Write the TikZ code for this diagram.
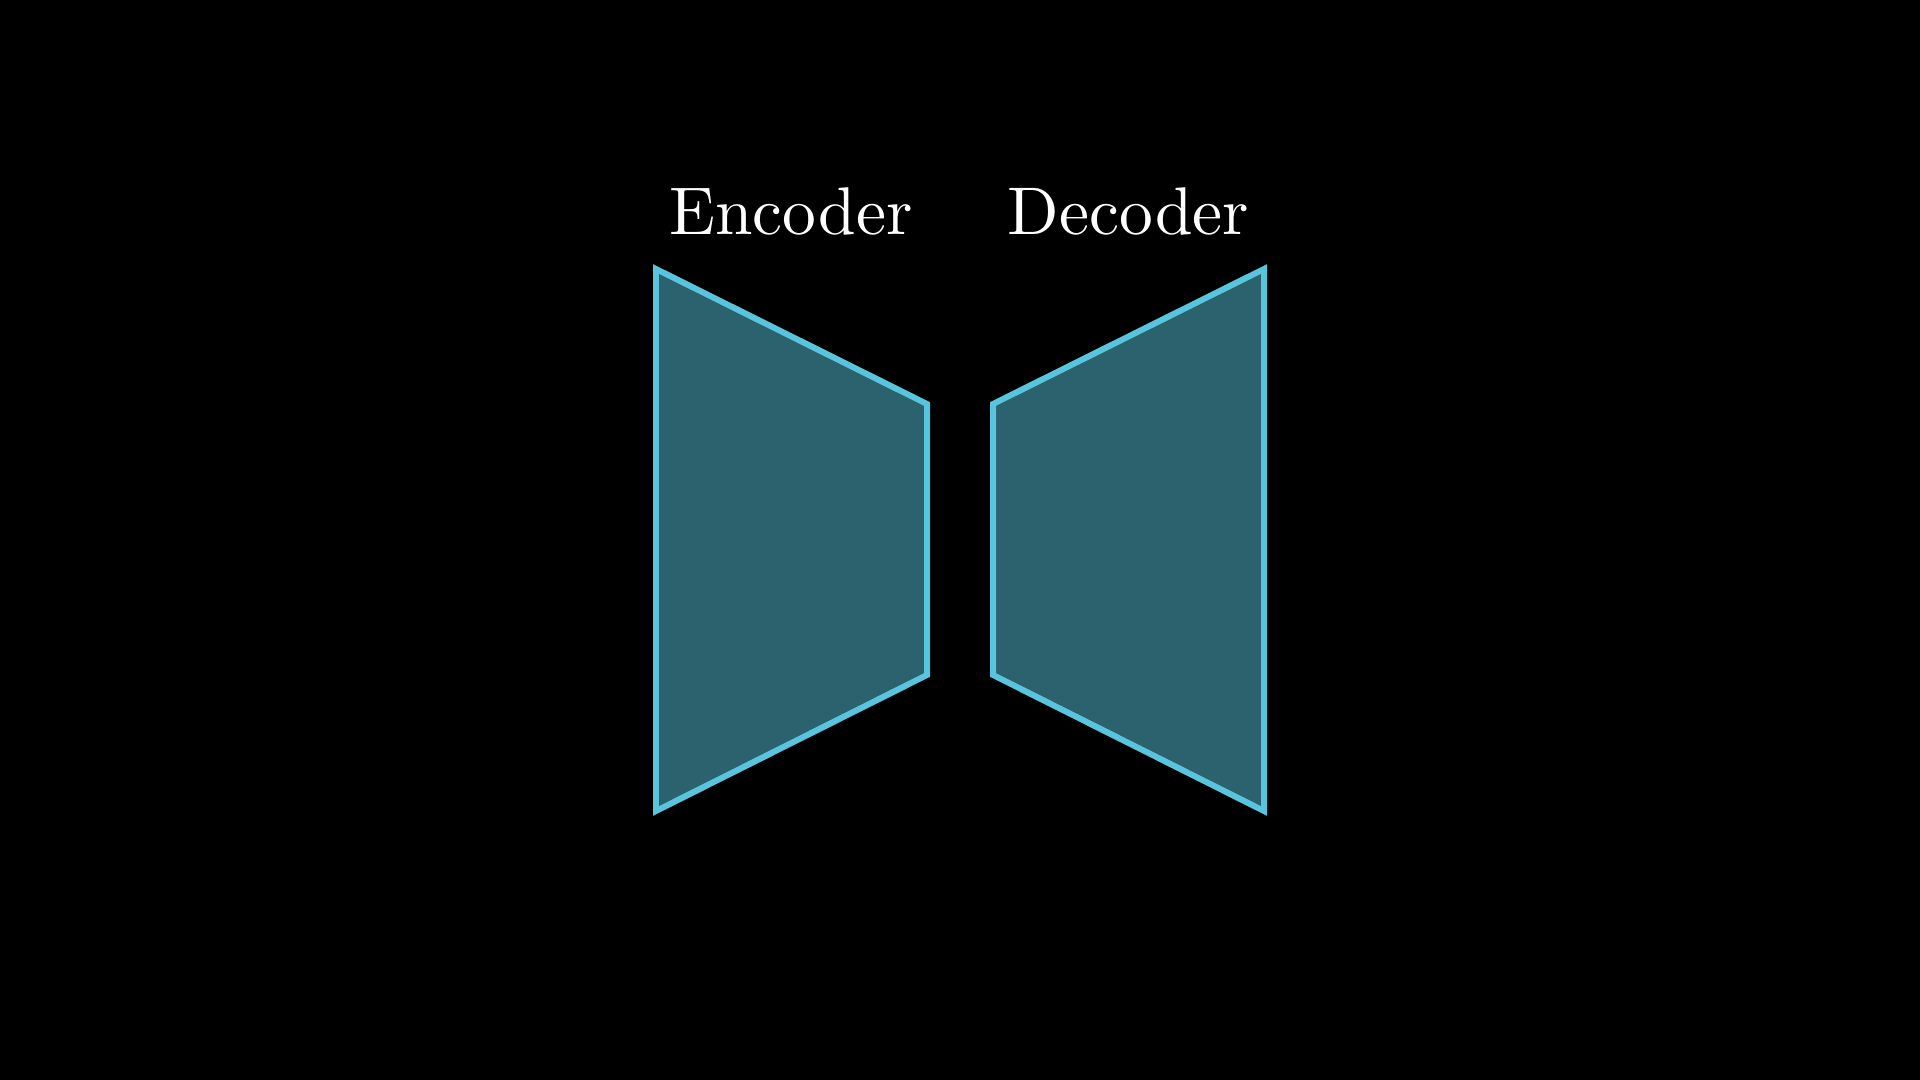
\documentclass[tikz,border=0pt]{standalone}
\usepackage{tikz}
\usetikzlibrary{positioning}
\definecolor{mblue}{HTML}{58C4DD}

\tikzset{
  block/.style={draw=mblue, line width=1.7pt, fill=mblue, fill opacity=0.5, draw opacity=1, line join=miter},
  label/.style={text=white, font=\normalsize, scale=1.92, anchor=base, inner sep=0pt}
}

\begin{document}
\begin{tikzpicture}
  \fill[black] (0,0) rectangle (19.2,10.8);
  \useasboundingbox (0,0) rectangle (19.2,10.8);

  %% Encoder
  \coordinate (enctl) at (6.56,8.11);
  \coordinate (enctr) at (9.27,6.76);
  \coordinate (encbr) at (9.27,4.05);
  \coordinate (encbl) at (6.56,2.69);
  \draw[block] (enctl) -- (enctr) -- (encbr) -- (encbl) -- cycle;
  \node[label] (enc) at (7.91,8.45) {Encoder};

  %% Decoder
  \coordinate (dectl) at (9.93,6.76);
  \coordinate (dectr) at (12.64,8.11);
  \coordinate (decbr) at (12.64,2.69);
  \coordinate (decbl) at (9.93,4.05);
  \draw[block] (dectl) -- (dectr) -- (decbr) -- (decbl) -- cycle;
  \node[label] (dec) at (11.285,8.45) {Decoder};
\end{tikzpicture}
\end{document}
